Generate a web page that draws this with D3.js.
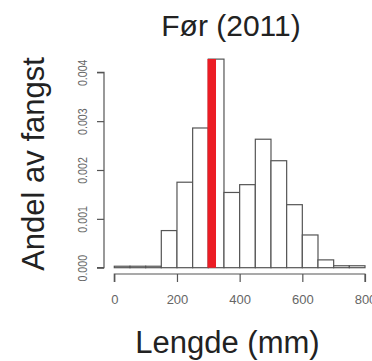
<!DOCTYPE html>
<html><head><meta charset="utf-8">
<script src="https://cdn.jsdelivr.net/npm/d3@7"></script>
<style>body{margin:0;background:#fff}svg{display:block}text{font-family:"Liberation Sans",Arial,sans-serif}</style>
</head><body>
<script>
const binStarts = [0,50,100,150,200,250,300,350,400,450,500,550,600,650,700,750];
const binWidth = 50;
const density = [0.00003,0.00003,0.00003,0.00076,0.00175,0.00286,0.00427,0.00154,0.00170,0.00263,0.00219,0.00129,0.00067,0.00016,0.00004,0.00004];
const meanLength = [311];
const xTicks = [0,200,400,600,800];
const yTicks = [0,0.001,0.002,0.003,0.004];
const title = "Før (2011)";
const xLabel = "Lengde (mm)";
const yLabel = "Andel av fangst";

const W=372,H=361;
const svg=d3.select("body").append("svg").attr("width",W).attr("height",H);
const x=d3.scaleLinear().domain([0,800]).range([114.3,365]);
const y=d3.scaleLinear().domain([0,0.004]).range([267.7,72.3]);

// bars
svg.append("g").selectAll("rect").data(binStarts).join("rect")
  .attr("x",(d)=>x(d)).attr("width",(d)=>x(d+binWidth)-x(d))
  .attr("y",(d,i)=>y(density[i])).attr("height",(d,i)=>y(0)-y(density[i]))
  .attr("fill","#fff").attr("stroke","#555").attr("stroke-width",1.2);

// red mean line
svg.append("g").selectAll("line").data(meanLength).join("line")
  .attr("x1",d=>x(d)).attr("x2",d=>x(d))
  .attr("y1",y(0)).attr("y2",y(d3.max(density)))
  .attr("stroke","#ec1c24").attr("stroke-width",8.5);

// x axis
const xa=svg.append("g").attr("transform","translate(0,274)")
  .call(d3.axisBottom(x).tickValues(xTicks).tickSize(8).tickPadding(13).tickFormat(d3.format("d")));
xa.select(".domain").attr("stroke","#555").attr("stroke-width",1.2).attr("d",`M${x(0)},8V0H${x(800)}V8`);
xa.selectAll(".tick line").attr("stroke","#555").attr("stroke-width",1.2);
xa.selectAll("text").attr("font-size",13).attr("fill","#666").attr("font-family","Liberation Sans, Arial, sans-serif");

// y axis
const ya=svg.append("g").attr("transform","translate(104,0)")
  .call(d3.axisLeft(y).tickValues(yTicks).tickSize(7).tickFormat(d3.format(".3f")));
ya.select(".domain").attr("stroke","#555").attr("stroke-width",1.2).attr("d",`M-7,${y(0.004)}H0V${y(0)}H-7`);
ya.selectAll(".tick line").attr("stroke","#555").attr("stroke-width",1.2);
ya.selectAll("text").attr("font-size",13).attr("fill","#666").attr("font-family","Liberation Sans, Arial, sans-serif")
  .attr("x",null).attr("dy",null).attr("text-anchor","middle")
  .attr("transform","translate(-20,0) rotate(-90) scale(0.82,1)")
  .attr("dominant-baseline","middle");

// titles
svg.append("text").attr("x",231).attr("y",35.5).attr("text-anchor","middle").attr("font-size",30).attr("fill","#222").text(title);
svg.append("text").attr("x",227.5).attr("y",353).attr("text-anchor","middle").attr("font-size",31).attr("fill","#222").text(xLabel);
svg.append("text").attr("transform","translate(43.5,164) rotate(-90)").attr("text-anchor","middle").attr("font-size",31).attr("fill","#222").text(yLabel);
</script>
</body></html>
